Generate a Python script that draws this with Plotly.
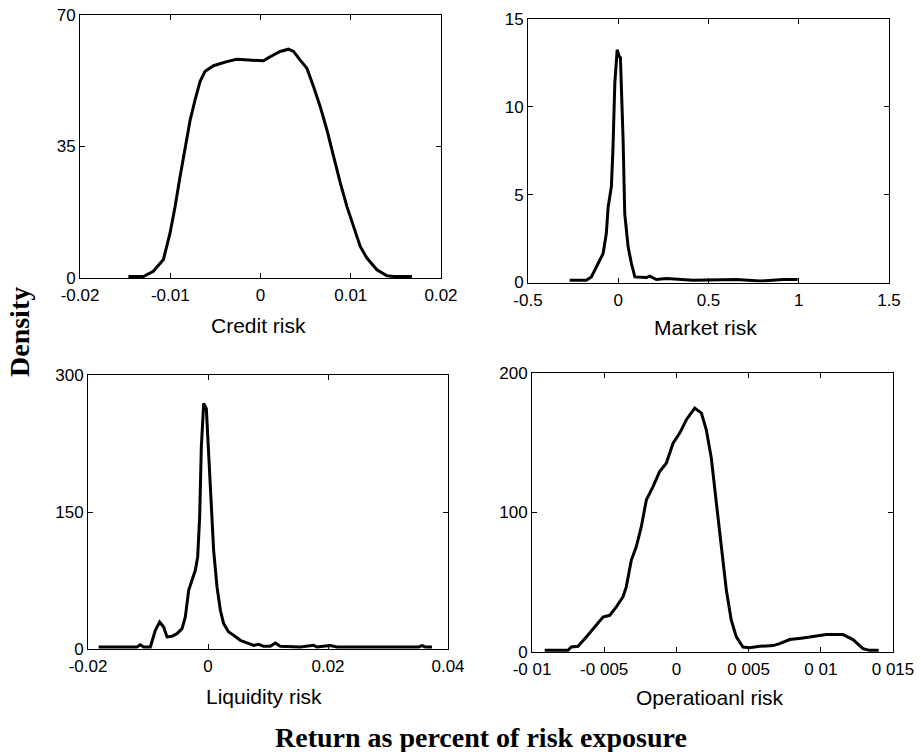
import plotly.graph_objects as go

W, H = 921, 752

# ---------------- data ----------------
credit_x = [-0.01464, -0.01298, -0.01187, -0.01076, -0.01002, -0.00946, -0.00891, -0.00835,
            -0.0078, -0.00725, -0.0067, -0.00614, -0.00521, -0.00373, -0.00262, -0.00133,
            0.00033, 0.00107, 0.00218, 0.0031, 0.00366, 0.0044, 0.00514, 0.00588, 0.00662,
            0.00736, 0.0081, 0.00884, 0.00958, 0.01031, 0.01105, 0.01179, 0.0129, 0.01401,
            0.01475, 0.01678]
credit_y = [0.4, 0.4, 1.8, 4.9, 12, 19, 27, 35, 42, 47.4, 52.3, 55, 56.5, 57.6, 58.2, 58,
            57.8, 58.9, 60.3, 60.9, 60.3, 58, 55.8, 50.9, 45.6, 39.4, 32.3, 25.3, 19, 13.7,
            8.4, 5.3, 2.2, 0.6, 0.4, 0.4]

market_x = [-0.269, -0.177, -0.149, -0.13, -0.103, -0.084, -0.066, -0.056, -0.038, -0.029,
            -0.019, -0.006, 0.005, 0.012, 0.019, 0.027, 0.036, 0.055, 0.073, 0.092, 0.156,
            0.175, 0.211, 0.267, 0.415, 0.563, 0.655, 0.785, 0.914, 0.994]
market_y = [0.13, 0.13, 0.32, 0.7, 1.18, 1.65, 2.8, 4.3, 5.46, 7.7, 11.35, 13.25, 12.87, 12.8,
            10.6, 8.1, 3.9, 2.0, 1.08, 0.32, 0.28, 0.36, 0.17, 0.23, 0.13, 0.17, 0.17, 0.08,
            0.17, 0.17]

liquidity_x = [-0.01822, -0.01183, -0.01128, -0.01072, -0.00961, -0.00878, -0.00806, -0.00739,
               -0.00683, -0.006, -0.00517, -0.00433, -0.00378, -0.00322, -0.00267, -0.00211,
               -0.00172, -0.00139, -0.00111, -0.00072, -0.00028, 0.00011, 0.0005, 0.00094,
               0.0015, 0.00206, 0.00261, 0.00344, 0.00428, 0.00539, 0.0065, 0.00761, 0.00844,
               0.00928, 0.01039, 0.01122, 0.01206, 0.01539, 0.01761, 0.01817, 0.02039, 0.0215,
               0.03511, 0.03567, 0.03622, 0.03733]
liquidity_y = [2.2, 2.2, 4.7, 2.2, 2.2, 20.5, 29.6, 24.1, 13.2, 13.9, 16.8, 22.3, 35, 64.3,
               75.3, 86.2, 100.8, 144.7, 221.4, 268.9, 263.4, 217.8, 173.9, 108.1, 68, 42.4,
               27.8, 18.6, 15, 9.5, 6.6, 4, 5.1, 2.9, 2.9, 6.6, 2.9, 2.2, 4, 2.2, 3.7, 2.2,
               2.2, 3.7, 2.2, 2.2]

oper_x = [-0.00912, -0.00751, -0.00728, -0.00681, -0.00624, -0.00566, -0.00508, -0.00462,
          -0.00416, -0.0037, -0.00347, -0.00312, -0.00278, -0.00243, -0.00208, -0.00162,
          -0.00116, -0.0007, -0.00023, 0.00023, 0.00069, 0.00127, 0.00173, 0.00207, 0.00242,
          0.00277, 0.00311, 0.00346, 0.0038, 0.00415, 0.00461, 0.00507, 0.00577, 0.00669,
          0.00715, 0.00784, 0.00877, 0.00923, 0.00981, 0.01038, 0.01154, 0.01223, 0.01292,
          0.01338, 0.01401]
oper_y = [1.2, 1.2, 3.6, 4.1, 10.8, 18, 25.1, 26.3, 32.3, 39.5, 46.7, 65.9, 75.4, 89.8, 109,
          118.6, 129.3, 135.3, 149.7, 156.9, 166.5, 174.9, 171.3, 159.3, 138.9, 106.6, 75.4,
          44.3, 22.8, 10.8, 3.6, 3.1, 4.1, 4.6, 6, 8.9, 10.1, 10.8, 12, 12.5, 12.5, 8.9, 2.4,
          1.2, 1.2]

titles = ["Credit risk", "Market risk", "Liquidity risk", "Operatioanl risk"]

credit_xticks = [-0.02, -0.01, 0, 0.01, 0.02]
credit_xlabels = ["-0.02", "-0.01", "0", "0.01", "0.02"]
credit_yticks = [0, 35, 70]
market_xticks = [-0.5, 0, 0.5, 1, 1.5]
market_xlabels = ["-0.5", "0", "0.5", "1", "1.5"]
market_yticks = [0, 5, 10, 15]
liquidity_xticks = [-0.02, 0, 0.02, 0.04]
liquidity_xlabels = ["-0.02", "0", "0.02", "0.04"]
liquidity_yticks = [0, 150, 300]
oper_xticks = [-0.01, -0.005, 0, 0.005, 0.01, 0.015]
oper_xlabels = ["-0 01", "-0 005", "0", "0 005", "0 01", "0 015"]
oper_yticks = [0, 100, 200]

# ---------------- layout helpers ----------------
def px_dom_x(a, b):
    return [a / W, b / W]

def px_dom_y(top, bottom):
    return [1 - bottom / H, 1 - top / H]

panels = [
    dict(x=credit_x, y=credit_y, xr=[-0.02, 0.02], yr=[0, 70], xt=credit_xticks, xl=credit_xlabels,
         yt=credit_yticks, dx=px_dom_x(80, 441), dy=px_dom_y(15, 278), tpos=(258, 325)),
    dict(x=market_x, y=market_y, xr=[-0.5, 1.5], yr=[0, 15], xt=market_xticks, xl=market_xlabels,
         yt=market_yticks, dx=px_dom_x(528, 889), dy=px_dom_y(19, 282.5), tpos=(705, 327)),
    dict(x=liquidity_x, y=liquidity_y, xr=[-0.02, 0.04], yr=[0, 300], xt=liquidity_xticks,
         xl=liquidity_xlabels, yt=liquidity_yticks, dx=px_dom_x(88, 448), dy=px_dom_y(375, 649),
         tpos=(264, 696)),
    dict(x=oper_x, y=oper_y, xr=[-0.01, 0.015], yr=[0, 200], xt=oper_xticks, xl=oper_xlabels,
         yt=oper_yticks, dx=px_dom_x(532, 893), dy=px_dom_y(373, 652), tpos=(710, 697)),
]

fig = go.Figure()
tickfont = dict(family="Liberation Sans, Arial, sans-serif", size=17, color="black")
annotations = []

for i, p in enumerate(panels):
    n = "" if i == 0 else str(i + 1)
    fig.add_trace(go.Scatter(x=p["x"], y=p["y"], mode="lines",
                             line=dict(color="black", width=3),
                             xaxis="x" + n, yaxis="y" + n, showlegend=False))
    axcommon = dict(showline=True, linecolor="black", linewidth=1, mirror="ticks",
                    ticks="inside", ticklen=5, tickcolor="black", tickwidth=1,
                    showgrid=False, zeroline=False, tickfont=tickfont, fixedrange=True,
                    automargin=False)
    fig.update_layout(**{
        "xaxis" + n: dict(domain=p["dx"], range=p["xr"], tickvals=p["xt"], ticktext=p["xl"],
                          anchor="y" + n, ticklabelstandoff=2, **axcommon),
        "yaxis" + n: dict(domain=p["dy"], range=p["yr"], tickvals=p["yt"],
                          ticktext=[str(v) for v in p["yt"]], anchor="x" + n, **axcommon),
    })
    annotations.append(dict(text=titles[i], xref="paper", yref="paper",
                            x=p["tpos"][0] / W, y=1 - p["tpos"][1] / H,
                            xanchor="center", yanchor="middle", showarrow=False,
                            font=dict(family="Liberation Sans, Arial, sans-serif", size=21,
                                      color="black")))

annotations.append(dict(text="<b>Density</b>", xref="paper", yref="paper",
                        x=20 / W, y=1 - 332 / H, xanchor="center", yanchor="middle",
                        textangle=-90, showarrow=False,
                        font=dict(family="Liberation Serif, Times New Roman, serif", size=28,
                                  color="black")))
annotations.append(dict(text="<b>Return as percent of risk exposure</b>", xref="paper",
                        yref="paper", x=481 / W, y=1 - 737 / H, xanchor="center",
                        yanchor="middle", showarrow=False,
                        font=dict(family="Liberation Serif, Times New Roman, serif", size=28,
                                  color="black")))

fig.update_layout(width=W, height=H, margin=dict(l=0, r=0, t=0, b=0, autoexpand=False),
                  paper_bgcolor="white", plot_bgcolor="white", template="none",
                  annotations=annotations, showlegend=False)

fig.write_html("out.html", config={"displayModeBar": False},
               post_script="document.body.style.margin='0';document.body.style.overflow='hidden';")
